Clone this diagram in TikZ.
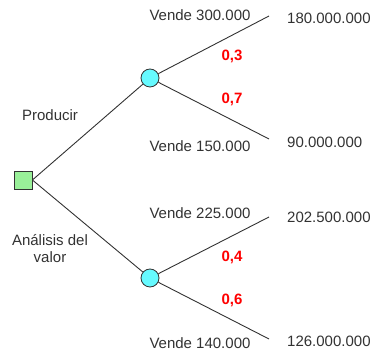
\documentclass[tikz,border=0pt]{standalone}
\usepackage{fontspec}
\setmainfont{Liberation Sans}
\definecolor{dgreen}{RGB}{153,240,153}
\definecolor{dcyan}{RGB}{102,250,255}
\definecolor{lgray}{RGB}{50,50,50}
\begin{document}
\begin{tikzpicture}[x=1pt,y=-1pt,
  every node/.style={font=\fontsize{15}{17}\selectfont, inner sep=0pt},
  lbl/.style={text=lgray},
  prob/.style={text=red, font=\fontsize{15}{17}\selectfont\bfseries},
  edge/.style={draw=lgray, line width=0.9pt},
  decision/.style={draw=lgray, line width=0.8pt, fill=dgreen, minimum size=18pt, rectangle},
  chance/.style={draw=lgray, line width=0.8pt, fill=dcyan, minimum size=18pt, circle}]
\useasboundingbox (0,0) rectangle (375,352);
\node[decision] (d) at (23,180) {};
\node[chance] (c1) at (150,78) {};
\node[chance] (c2) at (150,278) {};
\coordinate (e1) at (269,16);
\coordinate (e2) at (269,139);
\coordinate (e3) at (269,217);
\coordinate (e4) at (269,339);
\draw[edge] (d.east) -- (c1);
\draw[edge] (d.east) -- (c2);
\draw[edge] (c1) -- (e1);
\draw[edge] (c1) -- (e2);
\draw[edge] (c2) -- (e3);
\draw[edge] (c2) -- (e4);
\node[lbl] (t1) at (200,15) {Vende 300.000};
\node[lbl] (t2) at (200,146) {Vende 150.000};
\node[lbl] (t3) at (200,213) {Vende 225.000};
\node[lbl] (t4) at (200,343) {Vende 140.000};
\node[lbl,anchor=west] (v1) at (287,18) {180.000.000};
\node[lbl,anchor=west] (v2) at (287,142) {90.000.000};
\node[lbl,anchor=west] (v3) at (287,217) {202.500.000};
\node[lbl,anchor=west] (v4) at (287,341) {126.000.000};
\node[prob] (p1) at (232,56) {0,3};
\node[prob] (p2) at (232,99) {0,7};
\node[prob] (p3) at (232,257) {0,4};
\node[prob] (p4) at (232,300) {0,6};
\node[lbl] (a1) at (50,115) {Producir};
\node[lbl,align=center] (a2) at (50,249) {Análisis del\\valor};
\end{tikzpicture}
\end{document}
